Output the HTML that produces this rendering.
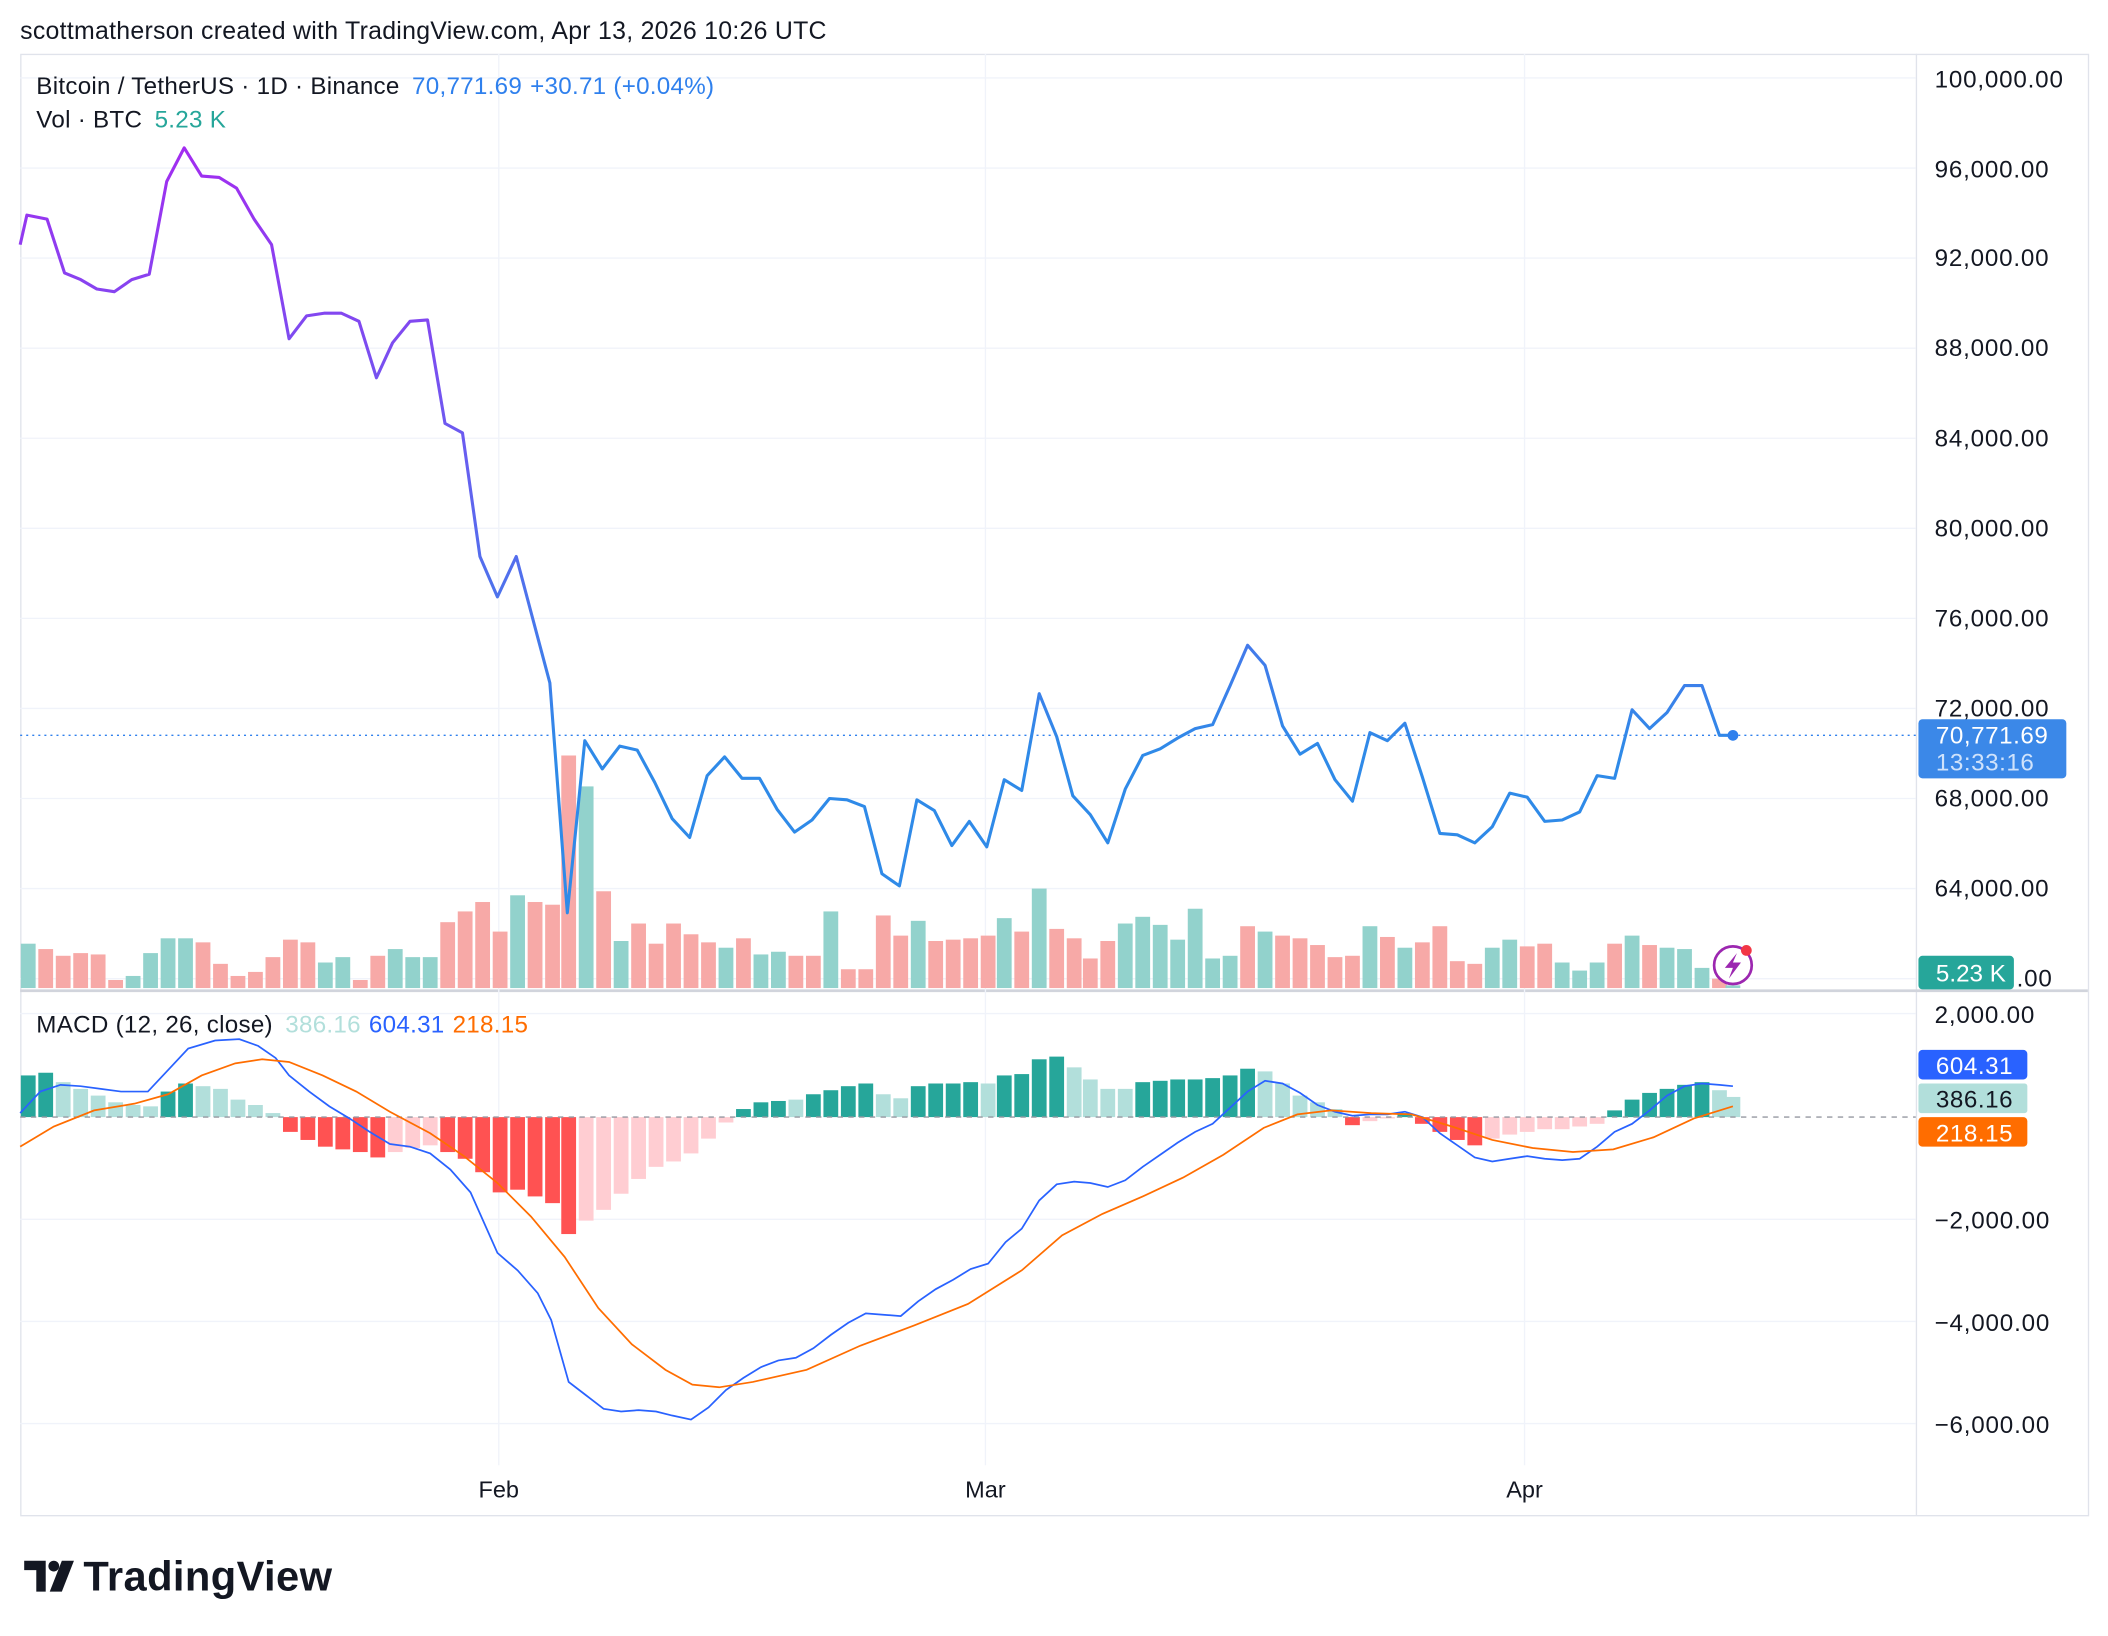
<!DOCTYPE html>
<html><head><meta charset="utf-8"><style>
html,body{margin:0;padding:0;background:#fff;}
svg{display:block;font-family:"Liberation Sans",sans-serif;}
</style></head><body>
<svg id="s" width="2108" height="1636" viewBox="0 0 1568 1217" preserveAspectRatio="none" xmlns="http://www.w3.org/2000/svg">
<defs>
<linearGradient id="pg" gradientUnits="userSpaceOnUse" x1="0" y1="100" x2="0" y2="560">
<stop offset="0" stop-color="#a52af0"/><stop offset="0.5" stop-color="#6a5cf0"/><stop offset="1" stop-color="#2f8ae8"/>
</linearGradient>
</defs>
<rect width="1568" height="1217" fill="#fff"/>
<text x="15" y="29" font-size="18.5" fill="#131722" letter-spacing="0.2">scottmatherson created with TradingView.com, Apr 13, 2026 10:26 UTC</text>
<rect x="15.5" y="40.5" width="1538" height="1087" fill="none" stroke="#e0e3eb"/>
<line x1="1425.5" y1="40" x2="1425.5" y2="1127" stroke="#e0e3eb"/>
<line x1="15" y1="737" x2="1553" y2="737" stroke="#d1d4dc" stroke-width="2"/>
<g id="grid" stroke="#f0f3fa" stroke-width="1"></g>
<g id="vol"></g>
<g id="hist"></g>
<line x1="15" y1="831" x2="1425" y2="831" stroke="#9598a1" stroke-dasharray="4,4"/>
<polyline id="macd" fill="none" stroke="#2962ff" stroke-width="1.3"/>
<polyline id="sig" fill="none" stroke="#ff6d00" stroke-width="1.3"/>
<line x1="15" y1="547" x2="1425" y2="547" stroke="#2f80ed" stroke-dasharray="1.5,3"/>
<polyline id="price" fill="none" stroke="url(#pg)" stroke-width="2.3" stroke-linejoin="round"/>
<circle cx="1289" cy="547" r="4" fill="#2f80ed"/>
<circle cx="1289" cy="718" r="14" fill="#fff" stroke="#9c27b0" stroke-width="2"/>
<path d="M1292 709 L1283 720 L1289 720 L1286 728 L1295 716 L1289 716 Z" fill="#9c27b0"/>
<circle cx="1299" cy="707" r="4" fill="#f23645"/>
<g font-size="18" fill="#131722" letter-spacing="0.6">
<text x="1439" y="65">100,000.00</text>
<text x="1439" y="132">96,000.00</text>
<text x="1439" y="198">92,000.00</text>
<text x="1439" y="265">88,000.00</text>
<text x="1439" y="332">84,000.00</text>
<text x="1439" y="399">80,000.00</text>
<text x="1439" y="466">76,000.00</text>
<text x="1439" y="533">72,000.00</text>
<text x="1439" y="600">68,000.00</text>
<text x="1439" y="667">64,000.00</text>
<text x="1500" y="734">.00</text>
<text x="1439" y="761">2,000.00</text>
<text x="1439" y="914">−2,000.00</text>
<text x="1439" y="990">−4,000.00</text>
<text x="1439" y="1066">−6,000.00</text>
</g>
<rect x="1427" y="535" width="110" height="44" rx="3" fill="#3b88e8"/>
<text x="1440" y="553" font-size="18" letter-spacing="0.4" fill="#fff">70,771.69</text>
<text x="1440" y="573" font-size="18" letter-spacing="0.4" fill="#cfe2fb">13:33:16</text>
<rect x="1427" y="711" width="71" height="25" rx="3" fill="#26a69a"/>
<text x="1440" y="730" font-size="18" fill="#fff">5.23 K</text>
<rect x="1427" y="781" width="81" height="22" rx="3" fill="#2962ff"/>
<text x="1440" y="799" font-size="18" letter-spacing="0.4" fill="#fff">604.31</text>
<rect x="1427" y="806" width="81" height="22" rx="2" fill="#b2dfdb"/>
<text x="1440" y="824" font-size="18" letter-spacing="0.4" fill="#131722">386.16</text>
<rect x="1427" y="831" width="81" height="22" rx="3" fill="#ff6d00"/>
<text x="1440" y="849" font-size="18" letter-spacing="0.4" fill="#fff">218.15</text>
<g font-size="17.5" fill="#131722" text-anchor="middle">
<text x="371" y="1114">Feb</text><text x="733" y="1114">Mar</text><text x="1134" y="1114">Apr</text>
</g>
<text x="27" y="70" font-size="18" letter-spacing="0.2" fill="#131722">Bitcoin / TetherUS · 1D · Binance <tspan fill="#2f80ed" dx="4">70,771.69</tspan><tspan fill="#2f80ed" dx="6">+30.71 (+0.04%)</tspan></text>
<text x="27" y="95" font-size="18" letter-spacing="0.2" fill="#131722">Vol · BTC <tspan fill="#26a69a" dx="4">5.23 K</tspan></text>
<text x="27" y="768" font-size="18" letter-spacing="0.2" fill="#131722">MACD (12, 26, close) <tspan fill="#b2dfdb" dx="4">386.16</tspan><tspan fill="#2962ff" dx="6">604.31</tspan><tspan fill="#ff6d00" dx="6">218.15</tspan></text>
<g fill="#131722">
<path d="M18 1161 H34 V1184 H27 V1168 H18 Z"/>
<circle cx="40" cy="1165" r="4"/>
<path d="M46 1161 H55 L46 1184 H37 Z"/>
</g>
<text x="62" y="1183" font-size="31" font-weight="bold" fill="#131722" letter-spacing="0.3">TradingView</text>
<script>
var NS="http://www.w3.org/2000/svg";
function el(p,t,a){var e=document.createElementNS(NS,t);for(var k in a)e.setAttribute(k,a[k]);document.getElementById(p).appendChild(e);}
var g=[58,125,192,259,326,393,460,527,594,661,728,754,907,983,1059];
g.forEach(function(y){el("grid","line",{x1:15,x2:1425,y1:y,y2:y});});
[371,733,1134].forEach(function(x){el("grid","line",{x1:x,x2:x,y1:40,y2:1090});});
var P=[[15,182],[20,160],[35,163],[48,203],[60,208],[72,215],[85,217],[98,208],[111,204],[124,135],[137,110],[150,131],[163,132],[176,140],[189,163],[202,182],[215,252],[228,235],[241,233],[254,233],[267,239],[280,281],[292,255],[305,239],[318,238],[331,315],[344,322],[357,414],[370,444],[384,414],[397,463],[409,508],[422,679],[435,551],[448,572],[461,555],[474,558],[487,582],[500,609],[513,623],[526,577],[539,563],[552,579],[565,579],[578,602],[591,619],[604,610],[617,594],[630,595],[643,600],[656,650],[669,659],[682,595],[695,603],[708,629],[721,611],[734,630],[747,580],[760,588],[773,516],[786,548],[798,592],[811,606],[824,627],[837,587],[850,562],[863,557],[876,549],[889,542],[902,539],[915,510],[928,480],[941,495],[954,540],[967,561],[980,553],[993,580],[1006,596],[1019,545],[1032,551],[1045,538],[1058,578],[1071,620],[1084,621],[1097,627],[1110,615],[1123,590],[1136,593],[1149,611],[1162,610],[1175,604],[1188,577],[1201,579],[1214,528],[1227,542],[1240,530],[1253,510],[1266,510],[1279,547],[1289,547]];
document.getElementById("price").setAttribute("points",P.join(" "));
var V="21 g702;34 r706;47 r711;60 r709;73 r710;86 r729;99 g726;112 g709;125 g698;138 g698;151 r701;164 r717;177 r726;190 r723;203 r712;216 r699;229 r701;242 g716;255 g712;268 r729;281 r711;294 g706;307 g712;320 g712;333 r686;346 r678;359 r671;372 r693;385 g666;398 r671;411 r673;423 r562;436 g585;449 r663;462 g700;475 r687;488 r702;501 r687;514 r695;527 r701;540 g705;553 r698;566 g710;579 g708;592 r711;605 r711;618 g678;631 r721;644 r721;657 r681;670 r696;683 g685;696 r700;709 r699;722 r698;735 r696;747 g683;760 r693;773 g661;786 r691;799 r698;811 r713;824 r700;837 g687;850 g682;863 g688;876 g699;889 g676;902 g713;915 g711;928 r689;941 g693;954 r696;967 r698;980 r703;993 r712;1006 r711;1019 g689;1032 r697;1045 g705;1058 r701;1071 r689;1084 r715;1097 r717;1110 g705;1123 g699;1136 r704;1149 r702;1162 g716;1175 g722;1188 g716;1201 r702;1214 g696;1227 r703;1240 g705;1253 g706;1266 g720;1279 r728;1289 g733";
V.split(";").forEach(function(s){var a=s.split(" ");var x=+a[0],c=a[1][0],y=+a[1].slice(1);
el("vol","rect",{x:x-5.5,y:y,width:11,height:735-y,fill:c=="g"?"#92d2cc":"#f7a9a7"});});
var H="21 G800;34 G798;47 g805;60 g810;73 g815;86 g820;99 g822;112 g823;125 G812;138 G806;151 g808;164 g810;177 g818;190 g822;203 g828;216 R842;229 R848;242 R853;255 R855;268 R857;281 R861;294 r857;307 r854;320 r852;333 R857;346 R862;359 R872;372 R887;385 R885;398 R890;411 R895;423 R918;436 r908;449 r900;462 r888;475 r877;488 r868;501 r864;514 r858;527 r847;540 r835;553 G825;566 G820;579 G819;592 g818;605 G814;618 G811;631 G808;644 G806;657 g814;670 g817;683 G808;696 G806;709 G806;722 G805;735 g806;747 G800;760 G799;773 G788;786 G786;799 g794;811 g803;824 g810;837 g810;850 G805;863 G804;876 G803;889 G803;902 G802;915 G800;928 G795;941 g797;954 g806;967 g815;980 g820;993 g825;1006 R837;1019 r834;1032 r832;1045 G828;1058 R836;1071 R842;1084 R848;1097 R852;1110 r847;1123 r844;1136 r842;1149 r840;1162 r840;1175 r838;1188 r836;1201 G826;1214 G818;1227 G813;1240 G810;1253 G807;1266 G805;1279 g811;1289 g816";
var col={G:"#26a69a",g:"#b2dfdb",R:"#ff5252",r:"#ffcdd2"};
H.split(";").forEach(function(s){var a=s.split(" ");var x=+a[0],c=a[1][0],y=+a[1].slice(1);
var t=Math.min(y,831),h=Math.abs(y-831);el("hist","rect",{x:x-5.5,y:t,width:11,height:h,fill:col[c]});});
var M=[[15,828],[30,812],[45,807],[60,808],[75,810],[90,812],[110,812],[125,796],[140,780],[160,774],[178,773],[192,778],[205,787],[215,800],[230,812],[245,823],[260,832],[275,842],[290,851],[305,853],[320,858],[335,870],[350,887],[370,932],[385,945],[400,962],[410,982],[423,1028],[436,1038],[449,1048],[462,1050],[475,1049],[488,1050],[500,1053],[514,1056],[527,1047],[540,1034],[553,1025],[566,1017],[579,1012],[592,1010],[605,1003],[618,993],[631,984],[644,977],[657,978],[670,979],[683,968],[696,959],[709,952],[722,944],[735,940],[748,924],[760,914],[773,893],[786,881],[799,879],[811,880],[824,883],[837,878],[850,868],[863,859],[876,850],[889,842],[902,836],[915,824],[928,812],[941,804],[954,806],[967,813],[980,822],[993,827],[1006,830],[1019,829],[1032,829],[1045,827],[1058,831],[1071,843],[1084,852],[1097,861],[1110,864],[1123,862],[1136,860],[1149,862],[1162,863],[1175,862],[1188,853],[1201,842],[1214,836],[1227,826],[1240,815],[1253,808],[1266,806],[1279,807],[1289,808]];
document.getElementById("macd").setAttribute("points",M.join(" "));
var S=[[15,853],[40,838],[70,826],[100,821],[125,814],[150,800],[175,791],[195,788],[215,790],[240,800],[265,812],[290,827],[320,843],[345,860],[370,880],[395,905],[420,935],[445,973],[470,1000],[495,1019],[515,1030],[535,1032],[560,1028],[600,1019],[640,1001],[680,986],[720,970],[760,945],[790,919],[820,903],[850,890],[880,876],[910,859],[940,839],[965,829],[990,826],[1020,828],[1050,829],[1080,838],[1110,848],[1140,854],[1170,857],[1200,855],[1230,846],[1260,832],[1289,823]];
document.getElementById("sig").setAttribute("points",S.join(" "));
</script>
</svg>
</body></html>
